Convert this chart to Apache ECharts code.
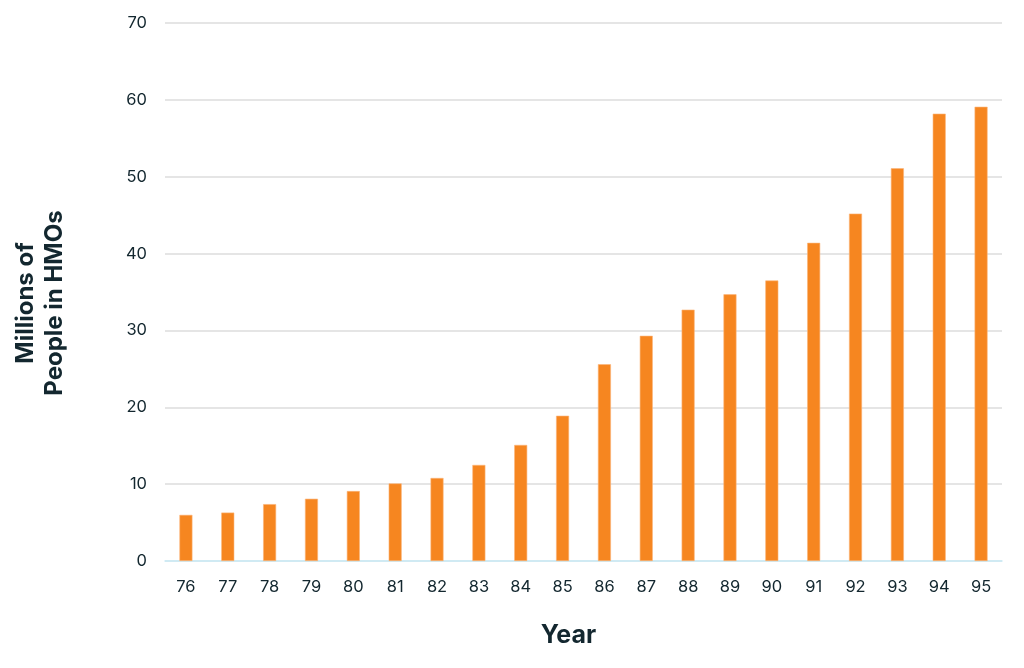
<!DOCTYPE html>
<html>
<head>
<meta charset="utf-8">
<script src="https://cdn.jsdelivr.net/npm/echarts@6/dist/echarts.min.js"></script>
<style>
  html, body { margin: 0; padding: 0; background: #fff; }
  #chart { width: 1024px; height: 668px; }
</style>
</head>
<body>
<div id="chart"></div>
<script>
// years (two-digit labels)
var years = ['76', '77', '78', '79', '80', '81', '82', '83', '84', '85',
             '86', '87', '88', '89', '90', '91', '92', '93', '94', '95'];
// millions of people enrolled in HMOs
var members = [6.0, 6.3, 7.4, 8.1, 9.1, 10.1, 10.8, 12.5, 15.1, 18.9,
               25.6, 29.3, 32.7, 34.7, 36.5, 41.4, 45.2, 51.1, 58.2, 59.1];

var textColor = '#13272f';
var fontName = 'Inter, "Noto Sans", sans-serif';

var myChart = echarts.init(document.getElementById('chart'));
myChart.setOption({
  animation: false,
  grid: { left: 165, right: 22, top: 23, bottom: 107 },
  xAxis: {
    type: 'category',
    data: years,
    name: 'Year',
    nameLocation: 'middle',
    nameGap: 62,
    nameTextStyle: {
      color: textColor, fontSize: 25, fontWeight: 'bold', fontFamily: fontName,
      padding: [0, 30, 0, 0]
    },
    axisLine: { lineStyle: { color: '#c9ecf8', width: 1.5 } },
    axisTick: { show: false },
    axisLabel: { color: textColor, fontSize: 16.5, margin: 18, fontFamily: fontName }
  },
  yAxis: {
    type: 'value',
    min: 0,
    max: 70,
    interval: 10,
    axisLine: { show: false },
    axisTick: { show: false },
    axisLabel: { color: textColor, fontSize: 16.5, margin: 18, fontFamily: fontName },
    splitLine: { lineStyle: { color: '#dddddd', width: 1.5 } }
  },
  graphic: [{
    type: 'text',
    x: 40,
    y: 303,
    rotation: Math.PI / 2,
    style: {
      text: 'Millions of\nPeople in HMOs',
      fill: textColor,
      font: 'bold 24px ' + fontName,
      lineHeight: 29,
      x: 0,
      y: 0,
      align: 'center',
      verticalAlign: 'middle'
    }
  }],
  series: [{
    type: 'bar',
    data: members,
    barWidth: 13,
    itemStyle: { color: '#f68620', borderColor: '#fbb57a', borderWidth: 0.6 }
  }]
});
</script>
</body>
</html>
